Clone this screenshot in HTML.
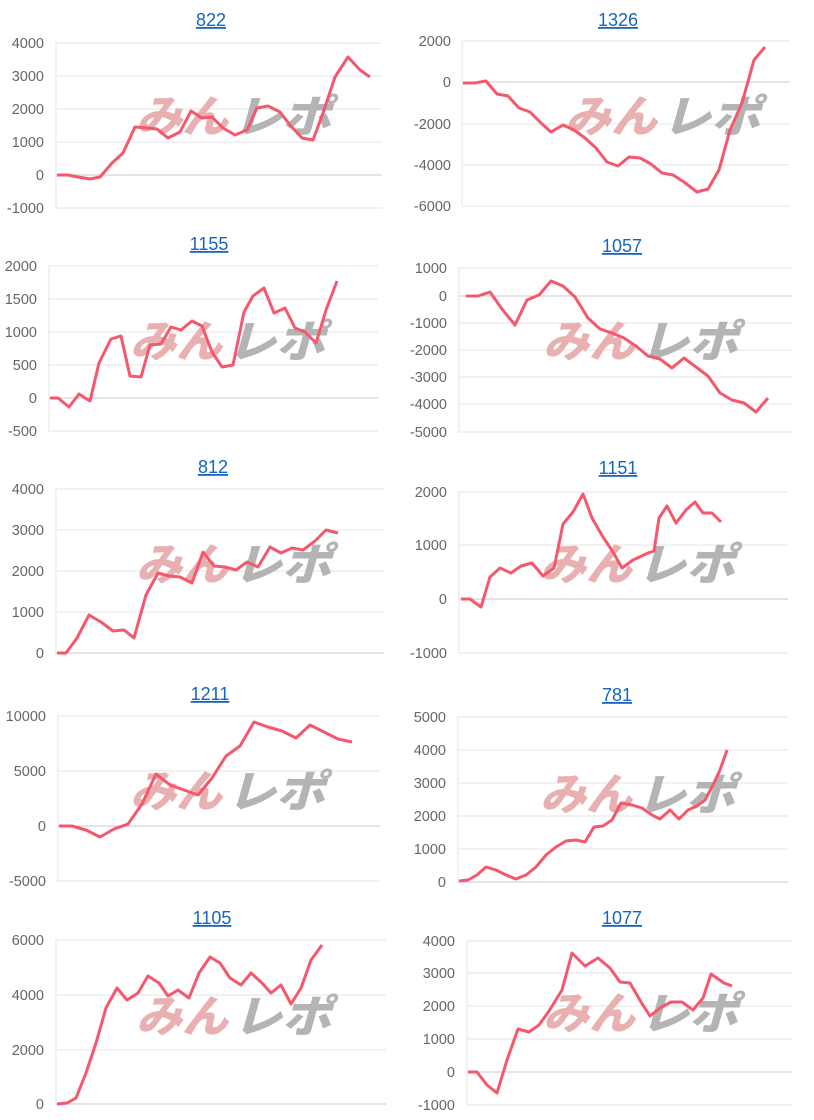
<!DOCTYPE html>
<html><head><meta charset="utf-8"><style>
body{margin:0;background:#fff;width:814px;height:1120px;overflow:hidden}
svg{display:block}
.t{font:18px "Liberation Sans",sans-serif;fill:#1565c0;text-decoration:underline;text-anchor:middle}
.y{font:14.5px "Liberation Sans",sans-serif;fill:#666;text-anchor:end}
.g{stroke:#e6e6e6;stroke-width:1}
.z{stroke:#c8c8c8;stroke-width:1}
.l{fill:none;stroke:#f5576c;stroke-width:3;stroke-linejoin:round}
.wp{font:italic 900 44px "WenQuanYi Zen Hei","Noto Sans CJK JP",sans-serif;fill:#e8b0b0}
.wg{font:italic 900 44px "WenQuanYi Zen Hei","Noto Sans CJK JP",sans-serif;fill:#b4b4b4}
</style></head><body>
<svg width="814" height="1120" xmlns="http://www.w3.org/2000/svg">
<defs>
<g id="wm"><text class="wp" x="0" y="0" textLength="92" lengthAdjust="spacingAndGlyphs">みん</text><text class="wg" x="97" y="0" textLength="98" lengthAdjust="spacingAndGlyphs">レポ</text></g>
</defs>

<!-- Chart 1 822 -->
<text class="t" x="211" y="26">822</text>
<g>
<line class="g" x1="55" x2="382" y1="43" y2="43"/><line class="g" x1="55" x2="382" y1="76" y2="76"/><line class="g" x1="55" x2="382" y1="109" y2="109"/><line class="g" x1="55" x2="382" y1="142" y2="142"/><line class="z" x1="55" x2="382" y1="175" y2="175"/><line class="g" x1="55" x2="382" y1="208" y2="208"/><line class="g" x1="56" x2="56" y1="43" y2="208"/>
<text class="y" x="44" y="48">4000</text><text class="y" x="44" y="81">3000</text><text class="y" x="44" y="114">2000</text><text class="y" x="44" y="147">1000</text><text class="y" x="44" y="180">0</text><text class="y" x="44" y="213">-1000</text>
<use href="#wm" x="136" y="132"/>
<polyline class="l" points="57,175 68,175 78,177 90,179 100,177 112,163 123,153 135,127 147,128 157,129 168,138 180,132 191,111 202,118 212,117 223,128 235,135 247,130 257,108 268,106 280,112 290,125 302,138 313,140 323,113 335,77 348,57 360,70 370,77"/>
</g>

<!-- Chart 2 1326 -->
<text class="t" x="618" y="26">1326</text>
<g>
<line class="g" x1="462" x2="790" y1="41" y2="41"/><line class="z" x1="462" x2="790" y1="82" y2="82"/><line class="g" x1="462" x2="790" y1="124" y2="124"/><line class="g" x1="462" x2="790" y1="165" y2="165"/><line class="g" x1="462" x2="790" y1="206" y2="206"/><line class="g" x1="462" x2="462" y1="41" y2="206"/>
<text class="y" x="451" y="46">2000</text><text class="y" x="451" y="87">0</text><text class="y" x="451" y="129">-2000</text><text class="y" x="451" y="170">-4000</text><text class="y" x="451" y="211">-6000</text>
<use href="#wm" x="565" y="132"/>
<polyline class="l" points="463,83 475,83 486,81 497,94 508,96 519,108 530,112 541,123 551,132 563,125 574,130 585,138 596,148 607,162 618,166 629,157 640,158 651,164 662,173 673,175 684,182 697,192 708,189 719,170 730,130 742,103 754,60 765,47"/>
</g>

<!-- Chart 3 1155 -->
<text class="t" x="209" y="250">1155</text>
<g>
<line class="g" x1="48" x2="378" y1="266" y2="266"/><line class="g" x1="48" x2="378" y1="299" y2="299"/><line class="g" x1="48" x2="378" y1="332" y2="332"/><line class="g" x1="48" x2="378" y1="365" y2="365"/><line class="z" x1="48" x2="378" y1="398" y2="398"/><line class="g" x1="48" x2="378" y1="431" y2="431"/><line class="g" x1="49" x2="49" y1="266" y2="431"/>
<text class="y" x="37" y="271">2000</text><text class="y" x="37" y="304">1500</text><text class="y" x="37" y="337">1000</text><text class="y" x="37" y="370">500</text><text class="y" x="37" y="403">0</text><text class="y" x="37" y="436">-500</text>
<use href="#wm" x="130" y="357"/>
<polyline class="l" points="50,398 58,398 69,407 79,394 90,401 99,363 111,339 121,336 130,376 141,377 150,345 161,344 171,327 181,330 192,321 202,326 212,352 222,367 233,365 244,312 253,296 264,288 274,313 285,308 295,328 305,332 316,343 326,310 337,281"/>
</g>

<!-- Chart 4 1057 -->
<text class="t" x="622" y="252">1057</text>
<g>
<line class="g" x1="458" x2="792" y1="268" y2="268"/><line class="z" x1="458" x2="792" y1="296" y2="296"/><line class="g" x1="458" x2="792" y1="323" y2="323"/><line class="g" x1="458" x2="792" y1="350" y2="350"/><line class="g" x1="458" x2="792" y1="377" y2="377"/><line class="g" x1="458" x2="792" y1="404" y2="404"/><line class="g" x1="458" x2="792" y1="432" y2="432"/><line class="g" x1="459" x2="459" y1="268" y2="432"/>
<text class="y" x="447" y="273">1000</text><text class="y" x="447" y="301">0</text><text class="y" x="447" y="328">-1000</text><text class="y" x="447" y="355">-2000</text><text class="y" x="447" y="382">-3000</text><text class="y" x="447" y="409">-4000</text><text class="y" x="447" y="437">-5000</text>
<use href="#wm" x="543" y="357"/>
<polyline class="l" points="466,296 478,296 490,292 502,309 515,325 527,300 539,295 551,281 563,286 575,297 588,318 600,329 612,333 624,338 636,346 648,356 660,359 672,368 684,358 696,367 708,376 720,393 732,400 744,403 756,412 768,398"/>
</g>

<!-- Chart 5 812 -->
<text class="t" x="213" y="473">812</text>
<g>
<line class="g" x1="55" x2="384" y1="489" y2="489"/><line class="g" x1="55" x2="384" y1="530" y2="530"/><line class="g" x1="55" x2="384" y1="571" y2="571"/><line class="g" x1="55" x2="384" y1="612" y2="612"/><line class="z" x1="55" x2="384" y1="653" y2="653"/><line class="g" x1="56" x2="56" y1="489" y2="653"/>
<text class="y" x="44" y="494">4000</text><text class="y" x="44" y="535">3000</text><text class="y" x="44" y="576">2000</text><text class="y" x="44" y="617">1000</text><text class="y" x="44" y="658">0</text>
<use href="#wm" x="136" y="580"/>
<polyline class="l" points="57,653 66,653 77,638 89,615 101,622 113,631 124,630 134,638 146,595 158,573 169,576 180,577 192,583 203,552 214,566 225,567 236,570 247,562 258,567 270,547 281,553 292,548 303,550 315,541 326,530 338,533"/>
</g>

<!-- Chart 6 1151 -->
<text class="t" x="618" y="474">1151</text>
<g>
<line class="g" x1="458" x2="788" y1="492" y2="492"/><line class="g" x1="458" x2="788" y1="545" y2="545"/><line class="z" x1="458" x2="788" y1="599" y2="599"/><line class="g" x1="458" x2="788" y1="653" y2="653"/><line class="g" x1="459" x2="459" y1="492" y2="653"/>
<text class="y" x="447" y="497">2000</text><text class="y" x="447" y="550">1000</text><text class="y" x="447" y="604">0</text><text class="y" x="447" y="658">-1000</text>
<use href="#wm" x="540" y="580"/>
<polyline class="l" points="461,599 470,599 481,607 490,577 500,568 511,573 521,566 532,563 543,576 554,568 563,524 573,512 583,494 592,518 603,537 613,552 622,568 633,560 648,553 654,551 659,518 667,506 676,523 686,510 695,502 703,513 712,513 721,522"/>
</g>

<!-- Chart 7 1211 -->
<text class="t" x="210" y="700">1211</text>
<g>
<line class="g" x1="57" x2="380" y1="716" y2="716"/><line class="g" x1="57" x2="380" y1="771" y2="771"/><line class="z" x1="57" x2="380" y1="826" y2="826"/><line class="g" x1="57" x2="380" y1="881" y2="881"/><line class="g" x1="58" x2="58" y1="716" y2="881"/>
<text class="y" x="46" y="721">10000</text><text class="y" x="46" y="776">5000</text><text class="y" x="46" y="831">0</text><text class="y" x="46" y="886">-5000</text>
<use href="#wm" x="130" y="807"/>
<polyline class="l" points="59,826 72,826 86,830 100,837 114,829 128,824 142,804 156,774 170,785 184,790 198,795 212,778 226,756 240,746 254,722 268,727 282,731 296,738 310,725 324,732 338,739 352,742"/>
</g>

<!-- Chart 8 781 -->
<text class="t" x="617" y="701">781</text>
<g>
<line class="g" x1="457" x2="788" y1="717" y2="717"/><line class="g" x1="457" x2="788" y1="750" y2="750"/><line class="g" x1="457" x2="788" y1="783" y2="783"/><line class="g" x1="457" x2="788" y1="816" y2="816"/><line class="g" x1="457" x2="788" y1="849" y2="849"/><line class="z" x1="457" x2="788" y1="882" y2="882"/><line class="g" x1="458" x2="458" y1="717" y2="882"/>
<text class="y" x="446" y="722">5000</text><text class="y" x="446" y="755">4000</text><text class="y" x="446" y="788">3000</text><text class="y" x="446" y="821">2000</text><text class="y" x="446" y="854">1000</text><text class="y" x="446" y="887">0</text>
<use href="#wm" x="540" y="810"/>
<polyline class="l" points="459,881 468,880 477,875 486,867 496,870 506,875 516,879 526,875 536,867 546,855 556,847 566,841 576,840 585,842 594,827 603,826 612,820 621,803 632,805 642,808 652,815 660,819 670,810 679,819 688,810 697,806 705,800 713,785 720,770 727,750"/>
</g>

<!-- Chart 9 1105 -->
<text class="t" x="212" y="924">1105</text>
<g>
<line class="g" x1="55" x2="386" y1="940" y2="940"/><line class="g" x1="55" x2="386" y1="995" y2="995"/><line class="g" x1="55" x2="386" y1="1050" y2="1050"/><line class="z" x1="55" x2="386" y1="1104" y2="1104"/><line class="g" x1="56" x2="56" y1="940" y2="1104"/>
<text class="y" x="44" y="945">6000</text><text class="y" x="44" y="1000">4000</text><text class="y" x="44" y="1055">2000</text><text class="y" x="44" y="1109">0</text>
<use href="#wm" x="136" y="1032"/>
<polyline class="l" points="57,1104 67,1103 76,1098 86,1073 96,1043 106,1008 117,988 127,1000 138,993 148,976 159,983 168,996 178,990 189,998 199,973 210,957 220,963 230,978 241,985 251,973 262,983 271,993 281,985 291,1004 301,988 311,960 322,945"/>
</g>

<!-- Chart 10 1077 -->
<text class="t" x="622" y="924">1077</text>
<g>
<line class="g" x1="467" x2="792" y1="941" y2="941"/><line class="g" x1="467" x2="792" y1="973" y2="973"/><line class="g" x1="467" x2="792" y1="1006" y2="1006"/><line class="g" x1="467" x2="792" y1="1039" y2="1039"/><line class="z" x1="467" x2="792" y1="1072" y2="1072"/><line class="g" x1="467" x2="792" y1="1105" y2="1105"/><line class="g" x1="467" x2="467" y1="941" y2="1105"/>
<text class="y" x="455" y="946">4000</text><text class="y" x="455" y="978">3000</text><text class="y" x="455" y="1011">2000</text><text class="y" x="455" y="1044">1000</text><text class="y" x="455" y="1077">0</text><text class="y" x="455" y="1110">-1000</text>
<use href="#wm" x="543" y="1029"/>
<polyline class="l" points="468,1072 477,1072 487,1085 497,1093 507,1060 518,1029 529,1032 539,1025 549,1011 562,990 572,953 585,966 598,958 610,968 620,982 630,983 641,1002 650,1016 660,1008 671,1002 682,1002 693,1010 703,998 711,974 724,983 732,986"/>
</g>
</svg>
</body></html>
